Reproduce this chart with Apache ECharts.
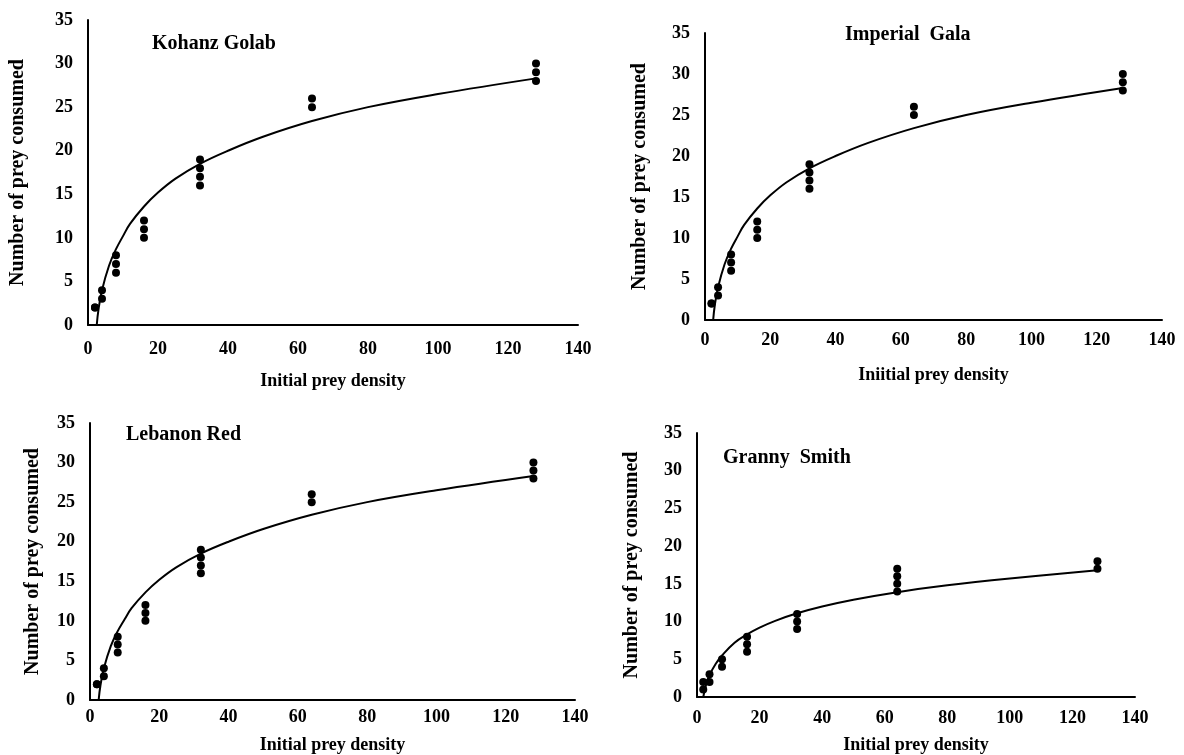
<!DOCTYPE html>
<html><head><meta charset="utf-8">
<script src="https://cdn.jsdelivr.net/npm/echarts@6/dist/echarts.min.js"></script>
<style>html,body{margin:0;padding:0;background:#fff}#c{width:1184px;height:755px}</style>
</head><body><div id="c"></div>
<script>
// ---- Data ----
var panelTitles = ['Kohanz Golab', 'Imperial  Gala', 'Lebanon Red', 'Granny  Smith'];
var xAxisTitles = ['Initial prey density', 'Iniitial prey density', 'Initial prey density', 'Initial prey density'];
var yAxisTitle = 'Number of prey consumed';
var xTicks = [0, 20, 40, 60, 80, 100, 120, 140];
var yTicks = [0, 5, 10, 15, 20, 25, 30, 35];

// observed points [density, consumed]
var kohanzPoints = [[2,2],[2,2],[4,3],[4,4],[8,6],[8,7],[8,8],[16,10],[16,11],[16,12],[32,16],[32,17],[32,18],[32,19],[64,25],[64,26],[128,28],[128,29],[128,30]];
var galaPoints   = [[2,2],[2,2],[4,3],[4,4],[8,6],[8,7],[8,8],[16,10],[16,11],[16,12],[32,16],[32,17],[32,18],[32,19],[64,25],[64,26],[128,28],[128,29],[128,30]];
var lebanonPoints= [[2,2],[2,2],[4,3],[4,4],[8,6],[8,7],[8,8],[16,10],[16,11],[16,12],[32,16],[32,17],[32,18],[32,19],[64,25],[64,26],[128,28],[128,29],[128,30]];
var grannyPoints = [[2,1],[2,2],[4,2],[4,3],[8,4],[8,5],[16,6],[16,7],[16,8],[32,9],[32,10],[32,11],[64,14],[64,15],[64,16],[64,17],[128,17],[128,18]];

// fitted curves
var kohanzCurve  = [[2.5,0],[3,1.8],[4,4],[6,6.8],[8,8.7],[10,10.2],[12,11.6],[16,13.6],[20,15.2],[25,16.8],[32,18.5],[40,20],[50,21.6],[64,23.4],[80,25],[100,26.5],[128,28.3]];
var galaCurve    = [[2.5,0],[3,1.8],[4,4],[6,6.8],[8,8.7],[10,10.2],[12,11.6],[16,13.6],[20,15.2],[25,16.8],[32,18.5],[40,20],[50,21.6],[64,23.4],[80,25],[100,26.5],[128,28.3]];
var lebanonCurve = [[2.5,0],[3,1.8],[4,4],[6,6.8],[8,8.7],[10,10.2],[12,11.6],[16,13.6],[20,15.2],[25,16.8],[32,18.5],[40,20],[50,21.6],[64,23.4],[80,25],[100,26.5],[128,28.3]];
var grannyCurve  = [[2,0],[3,1.8],[4,2.9],[6,4.4],[8,5.5],[12,7.2],[16,8.3],[20,9.2],[25,10.1],[32,11.1],[40,12],[50,12.9],[64,13.9],[80,14.8],[100,15.7],[128,16.8]];

var pointSets = [kohanzPoints, galaPoints, lebanonPoints, grannyPoints];
var curveSets = [kohanzCurve, galaCurve, lebanonCurve, grannyCurve];

// ---- Layout ----
var grids = [
  {left: 88,  top: 20,  width: 490, height: 305},
  {left: 705, top: 33,  width: 457, height: 287},
  {left: 90,  top: 423, width: 485, height: 277},
  {left: 697, top: 433, width: 438, height: 264}
];
var xNameGap = [47, 46, 36, 39];
var xLabelMargin = [15, 11, 8, 12];
var yNameGap = [60, 55, 47, 55];
var titlePos = [
  {left: 152, top: 34},
  {left: 845, top: 25},
  {left: 126, top: 425},
  {left: 723, top: 448}
];

var FONT = '"Liberation Serif", "Times New Roman", serif';
var chart = echarts.init(document.getElementById('c'), null, {renderer: 'canvas'});

var option = {
  backgroundColor: '#fff',
  animation: false,
  title: panelTitles.map(function (t, i) {
    return {text: t, left: titlePos[i].left, top: titlePos[i].top, padding: 0,
      textStyle: {fontFamily: FONT, fontWeight: 'bold', fontSize: 20, color: '#000'}};
  }),
  grid: grids.map(function (g) { return Object.assign({containLabel: false}, g); }),
  xAxis: grids.map(function (g, i) {
    return {
      type: 'value', gridIndex: i, min: xTicks[0], max: xTicks[xTicks.length - 1], interval: 20,
      name: xAxisTitles[i], nameLocation: 'middle', nameGap: xNameGap[i],
      nameTextStyle: {fontFamily: FONT, fontWeight: 'bold', fontSize: 18, color: '#000'},
      axisLine: {lineStyle: {color: '#000', width: 2}},
      axisTick: {show: false},
      splitLine: {show: false},
      axisLabel: {fontFamily: FONT, fontWeight: 'bold', fontSize: 18, color: '#000', margin: xLabelMargin[i]}
    };
  }),
  yAxis: grids.map(function (g, i) {
    return {
      type: 'value', gridIndex: i, min: yTicks[0], max: yTicks[yTicks.length - 1], interval: 5,
      name: yAxisTitle, nameLocation: 'middle', nameGap: yNameGap[i], nameRotate: 90,
      nameTextStyle: {fontFamily: FONT, fontWeight: 'bold', fontSize: 20, color: '#000'},
      axisLine: {show: true, lineStyle: {color: '#000', width: 2}},
      axisTick: {show: false},
      splitLine: {show: false},
      axisLabel: {fontFamily: FONT, fontWeight: 'bold', fontSize: 18, color: '#000', margin: 15}
    };
  }),
  series: []
};

for (var i = 0; i < 4; i++) {
  option.series.push({
    type: 'line', xAxisIndex: i, yAxisIndex: i, data: curveSets[i],
    smooth: 0.4, showSymbol: false, lineStyle: {color: '#000', width: 2}, z: 2
  });
  option.series.push({
    type: 'scatter', xAxisIndex: i, yAxisIndex: i, data: pointSets[i],
    symbol: 'circle', symbolSize: 8, itemStyle: {color: '#000', opacity: 1}, z: 3
  });
}

chart.setOption(option);
</script>
</body></html>
